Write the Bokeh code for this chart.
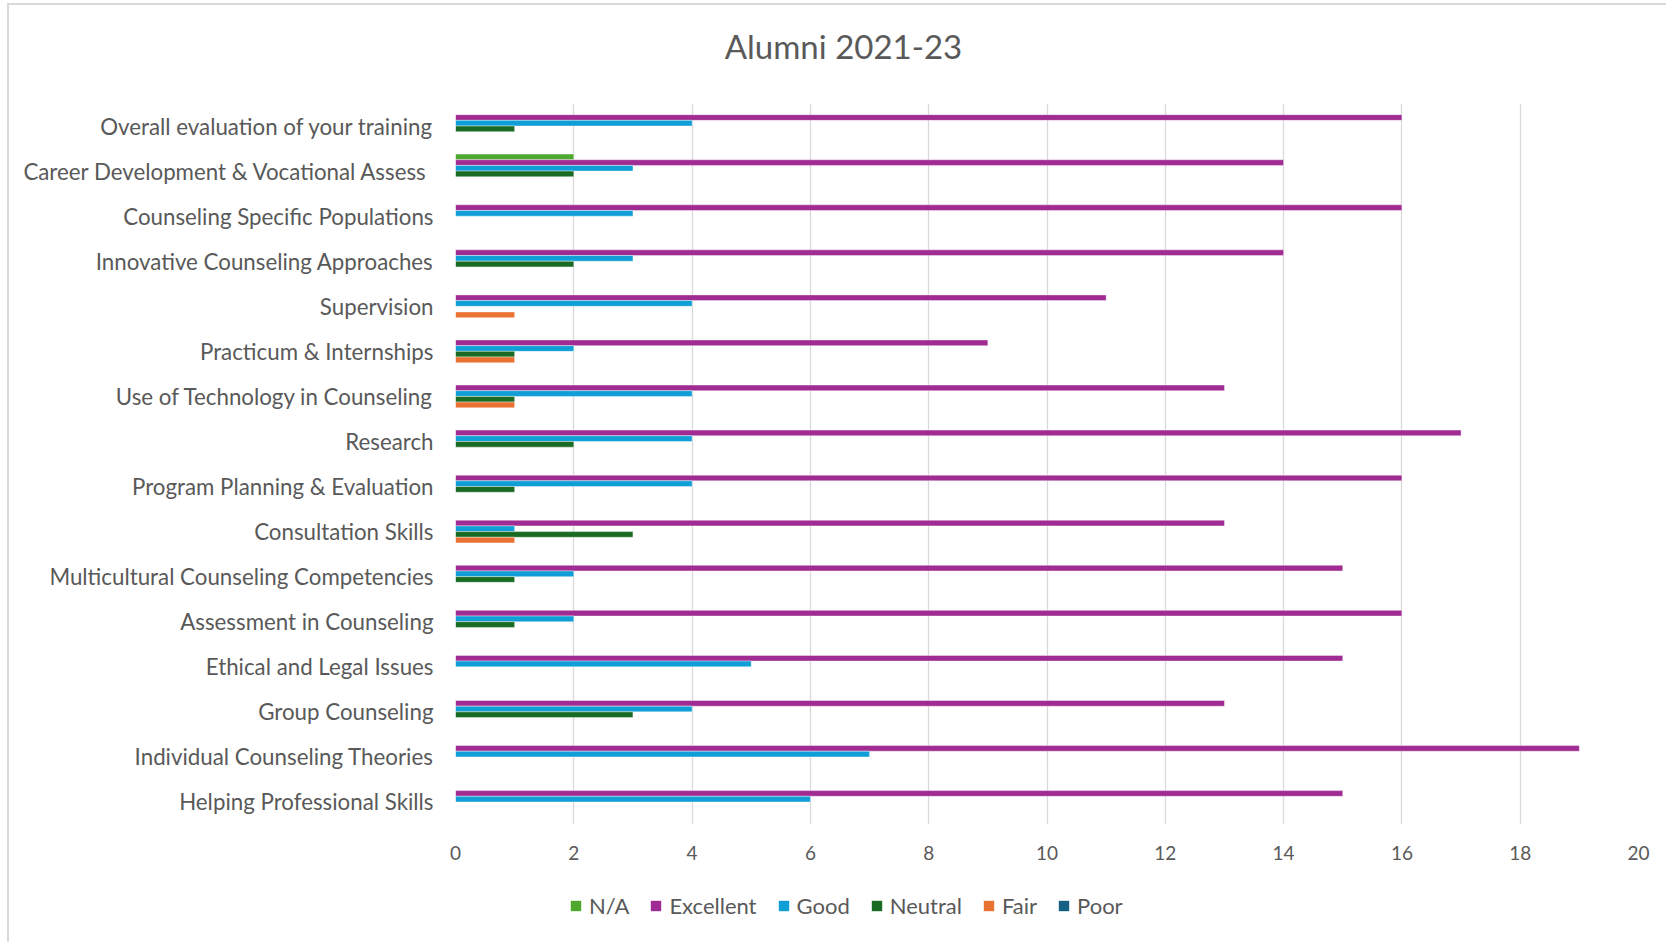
from bokeh.plotting import figure
from bokeh.layouts import column
from bokeh.models import FactorRange, Range1d, Legend, LegendItem, Label, ColumnDataSource, FixedTicker
from bokeh.transform import dodge
from bokeh.embed import file_html
from bokeh.resources import INLINE

# categories listed top to bottom as in the chart
categories = [
    "Overall evaluation of your training",
    "Career Development & Vocational Assess ",
    "Counseling Specific Populations",
    "Innovative Counseling Approaches",
    "Supervision",
    "Practicum & Internships",
    "Use of Technology in Counseling",
    "Research",
    "Program Planning & Evaluation",
    "Consultation Skills",
    "Multicultural Counseling Competencies",
    "Assessment in Counseling",
    "Ethical and Legal Issues",
    "Group Counseling",
    "Individual Counseling Theories",
    "Helping Professional Skills",
]
series_names = ["N/A", "Excellent", "Good", "Neutral", "Fair", "Poor"]
na_vals        = [0, 2, 0, 0, 0, 0, 0, 0, 0, 0, 0, 0, 0, 0, 0, 0]
excellent_vals = [16, 14, 16, 14, 11, 9, 13, 17, 16, 13, 15, 16, 15, 13, 19, 15]
good_vals      = [4, 3, 3, 3, 4, 2, 4, 4, 4, 1, 2, 2, 5, 4, 7, 6]
neutral_vals   = [1, 2, 0, 2, 0, 1, 1, 2, 1, 3, 1, 1, 0, 3, 0, 0]
fair_vals      = [0, 0, 0, 0, 1, 1, 1, 0, 0, 1, 0, 0, 0, 0, 0, 0]
poor_vals      = [0, 0, 0, 0, 0, 0, 0, 0, 0, 0, 0, 0, 0, 0, 0, 0]
x_ticks = [0, 2, 4, 6, 8, 10, 12, 14, 16, 18, 20]
chart_title = "Alumni 2021-23"

colors = ["#4EA72E", "#A02B93", "#0F9ED5", "#196B24", "#E97132", "#156082"]
all_vals = [na_vals, excellent_vals, good_vals, neutral_vals, fair_vals, poor_vals]

FONT = "Lato"
TXT = "#595959"
GRID = "#D9D9D9"
W = 1666
LEFT, RIGHT = 455, 28
TOP_H, MAIN_H, LEG_H = 103, 783, 56

# ---- title strip (frame aligned with the chart frame; 1 data unit = 1 px) ----
tfig = figure(
    width=W, height=TOP_H, x_range=Range1d(0, W - LEFT - RIGHT), y_range=Range1d(0, TOP_H),
    output_backend="svg", toolbar_location=None, x_axis_type=None, y_axis_type=None,
    min_border_left=LEFT, min_border_right=RIGHT, min_border_top=0, min_border_bottom=0,
    background_fill_color=None, border_fill_color=None,
)
tfig.outline_line_color = None
tfig.grid.grid_line_color = None
tfig.add_layout(Label(x=388, y=TOP_H - 45, text=chart_title, text_align="center",
                      text_baseline="middle", text_font=FONT, text_font_size="33px",
                      text_color=TXT))

# ---- main chart ----
p = figure(
    width=W, height=MAIN_H,
    y_range=FactorRange(*list(reversed(categories))),
    x_range=Range1d(0, 20),
    output_backend="svg", toolbar_location=None,
    min_border_left=LEFT, min_border_top=0, min_border_right=RIGHT, min_border_bottom=62,
    background_fill_color="white", border_fill_color=None,
)
p.outline_line_color = None

bar_h = 0.126
offsets = [2.5 * bar_h, 1.5 * bar_h, 0.5 * bar_h, -0.5 * bar_h, -1.5 * bar_h, -2.5 * bar_h]

for name, vals, col, off in zip(series_names, all_vals, colors, offsets):
    cats = [c for c, v in zip(categories, vals) if v > 0]
    vv = [v for v in vals if v > 0]
    src = ColumnDataSource(dict(cat=cats, val=vv))
    p.hbar(y=dodge("cat", off, range=p.y_range), left=0, right="val", height=bar_h,
           source=src, fill_color=col, line_color="white", line_alpha=0.5, line_width=0.8)

p.xaxis.ticker = FixedTicker(ticks=x_ticks)
p.xaxis.axis_line_color = None
p.xaxis.major_tick_line_color = None
p.xaxis.minor_tick_line_color = None
p.xaxis.major_label_text_font = FONT
p.xaxis.major_label_text_font_size = "19px"
p.xaxis.major_label_text_color = TXT
p.xaxis.major_label_standoff = 15

p.yaxis.axis_line_color = None
p.yaxis.major_tick_line_color = None
p.yaxis.minor_tick_line_color = None
p.yaxis.major_label_text_font = FONT
p.yaxis.major_label_text_font_size = "22.3px"
p.yaxis.major_label_text_color = TXT
p.yaxis.major_label_standoff = 16

p.xgrid.grid_line_color = GRID
p.xgrid.grid_line_width = 1.3
p.ygrid.grid_line_color = None

# ---- legend strip ----
leg = figure(
    width=W, height=LEG_H, x_range=Range1d(0, 1), y_range=Range1d(0, 1),
    output_backend="svg", toolbar_location=None, x_axis_type=None, y_axis_type=None,
    min_border_left=LEFT, min_border_right=RIGHT, min_border_top=0, min_border_bottom=0,
    background_fill_color=None, border_fill_color=None,
)
leg.outline_line_color = None
leg.grid.grid_line_color = None
items = []
for name, col in zip(series_names, colors):
    # zero-length bar: only provides the legend swatch
    r = leg.hbar(y=[0.5], left=[0], right=[0], height=0.1, fill_color=col, line_color=None)
    items.append(LegendItem(label=name, renderers=[r]))

legend = Legend(items=items, orientation="horizontal", location=(114, 23))
legend.label_text_font = FONT
legend.label_text_font_size = "22px"
legend.label_text_color = TXT
legend.glyph_width = 13
legend.glyph_height = 13
legend.label_standoff = 7
legend.spacing = 20
legend.padding = 0
legend.margin = 0
legend.border_line_color = None
legend.background_fill_alpha = 0
leg.add_layout(legend, "center")

layout = column(tfig, p, leg, spacing=0)
layout.styles = {"box-shadow": "inset 7px 3px 0 0 white, inset 9px 5px 0 0 #D9D9D9",
                 "background": "white"}

open("out.html", "w").write(file_html(layout, INLINE))
